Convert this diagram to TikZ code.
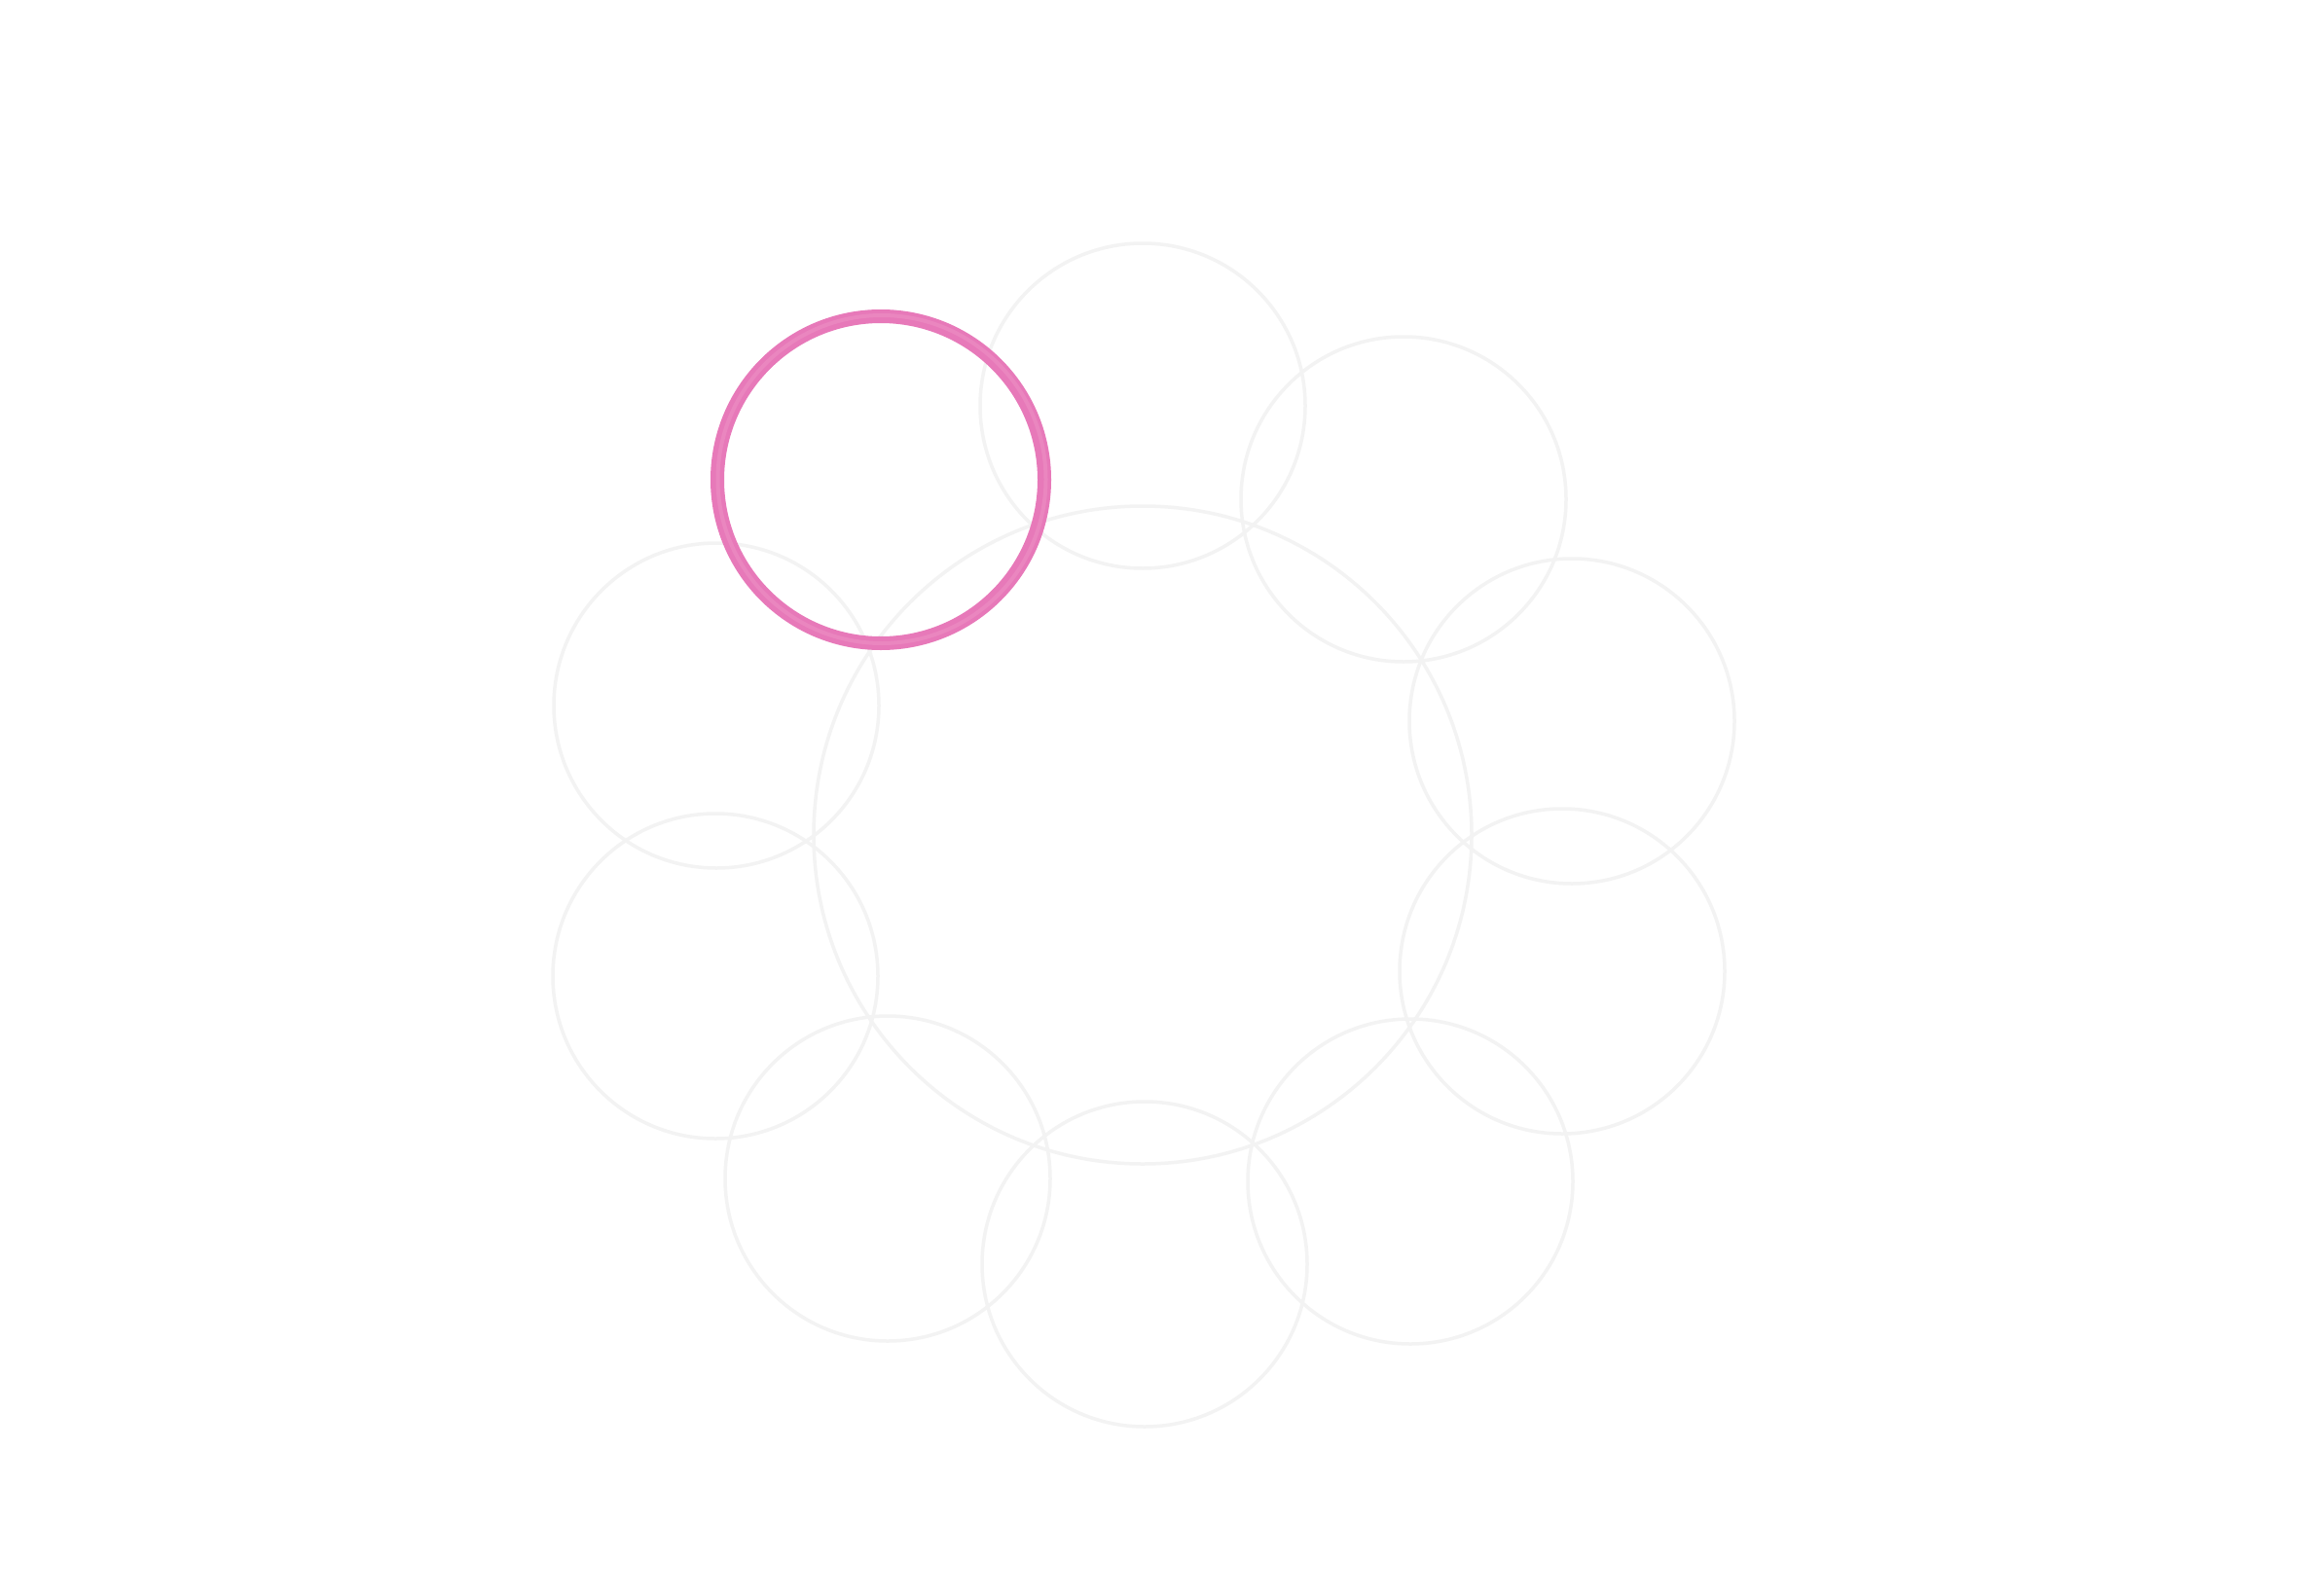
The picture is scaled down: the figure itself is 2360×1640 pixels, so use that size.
\documentclass[tikz,border=0pt]{standalone}
\usetikzlibrary{calc}
\definecolor{ringgrey}{RGB}{243,243,243}
\definecolor{ringpink}{RGB}{231,121,185}
\definecolor{ringpinklt}{RGB}{238,150,200}
\begin{document}
\begin{tikzpicture}[x=1pt,y=-1pt,
  ring/.style={circle, draw=ringgrey, line width=3.5pt, inner sep=0pt, minimum size=334pt},
  hub/.style={circle, draw=ringgrey, line width=3.5pt, inner sep=0pt, minimum size=676pt},
  active/.style={circle, draw=ringpink, line width=14pt, inner sep=0pt, minimum size=336pt}]
\fill[white] (0,0) rectangle (2360,1640);
\useasboundingbox (0,0) rectangle (2360,1640);
\node[hub] (center) at (1174,858) {};
\node[ring] (r1) at (1174,417) {};
\node[ring] (r2) at (1442,513) {};
\node[ring] (r3) at (1615,741) {};
\node[ring] (r4) at (1605,998) {};
\node[ring] (r5) at (1449,1214) {};
\node[ring] (r6) at (1176,1299) {};
\node[ring] (r7) at (912,1211) {};
\node[ring] (r8) at (735,1003) {};
\node[ring] (r9) at (736,725) {};
\node[active] (r10) at (905,493) {};
\draw[ringpinklt, line width=4pt, opacity=0.45] ($(r10.center)+(1,-0.5)$) circle[radius=168.5pt];
\end{tikzpicture}
\end{document}
